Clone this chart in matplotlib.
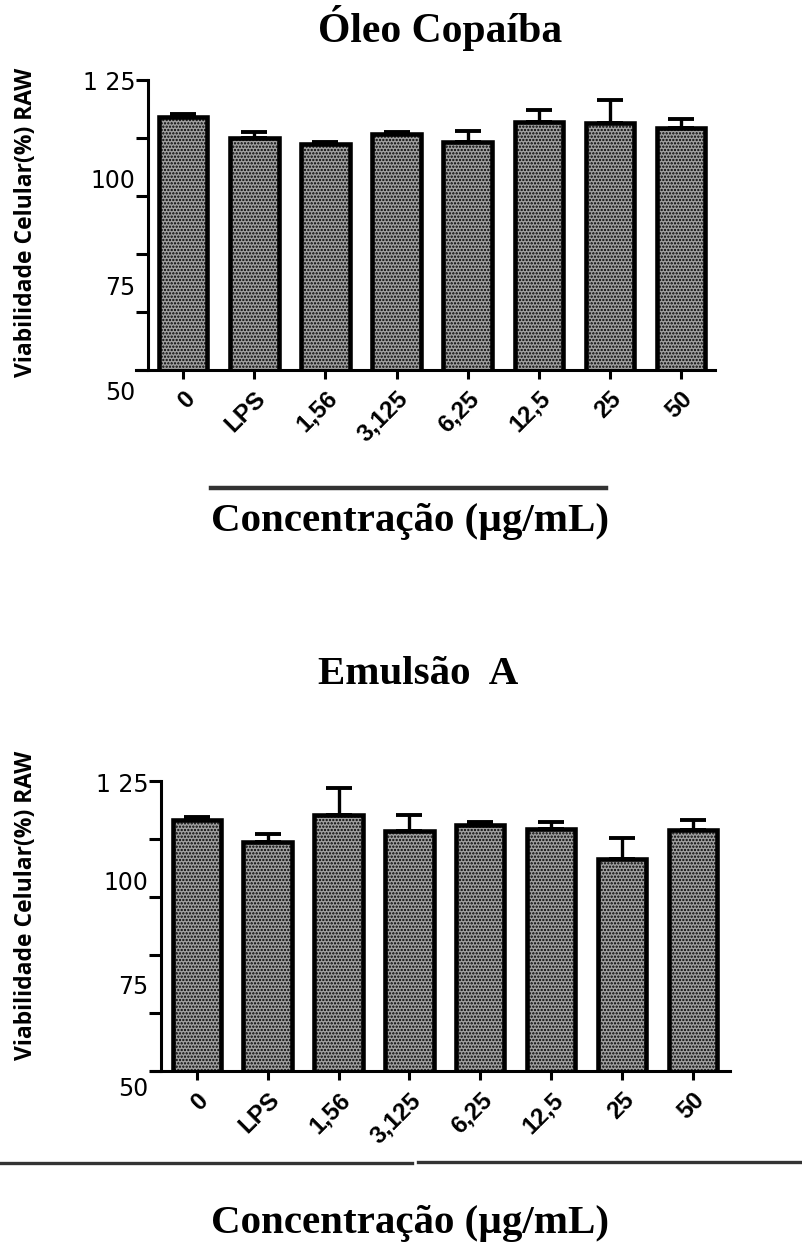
import matplotlib.pyplot as plt
from matplotlib.lines import Line2D

categories = ['0', 'LPS', '1,56', '3,125', '6,25', '12,5', '25', '50']
oleo_mean = [115.3, 110.0, 108.4, 110.9, 108.9, 114.0, 113.9, 112.6]
oleo_err = [1.0, 1.5, 0.6, 0.7, 2.8, 3.1, 5.8, 2.2]
emul_mean = [114.8, 109.3, 116.2, 112.0, 113.7, 112.6, 104.9, 112.2]
emul_err = [0.9, 1.9, 7.1, 4.2, 0.7, 1.9, 5.4, 2.8]
y_ticks = [50, 65, 80, 95, 110, 125]
y_labels = ['1 25', '100', '75', '50']

W, H = 802, 1255
plt.rcParams['hatch.linewidth'] = 1.1
fig = plt.figure(figsize=(W / 100, H / 100), dpi=100)


def px_axes(x0, x1, y_top, y_bot):
    # caixa em pixels -> fracao da figura
    return [x0 / W, 1 - y_bot / H, (x1 - x0) / W, (y_bot - y_top) / H]


def draw_panel(ax, means, errs, xlim, spine_x, lab_y, lab_x):
    x = list(range(len(categories)))
    ax.bar(x, means, width=0.68, color='#a0a0a0', edgecolor='black',
           linewidth=3.3, hatch='.....', zorder=2)
    ax.errorbar(x, means, yerr=[[0] * len(errs), errs], fmt='none',
                ecolor='black', elinewidth=2.4, capsize=9.5, capthick=2.8,
                zorder=3)
    ax.set_xlim(*xlim)
    ax.set_ylim(50, 125)
    ax.spines['top'].set_visible(False)
    ax.spines['right'].set_visible(False)
    ax.spines['left'].set_position(('data', spine_x))
    ax.spines['left'].set_bounds(50, 125)
    for s in ('left', 'bottom'):
        ax.spines[s].set_linewidth(2.2)
    ax.set_yticks(y_ticks)
    ax.set_yticklabels([])
    ax.tick_params(axis='y', length=9, width=2.2, direction='out')
    ax.tick_params(axis='x', length=6.5, width=2.2, direction='out', pad=6)
    ax.set_xticks(x)
    ax.set_xticklabels(categories, rotation=45, ha='right', va='top',
                       rotation_mode='anchor', fontsize=17.5,
                       fontweight='bold', family='Liberation Sans')
    for lab, yy in zip(y_labels, lab_y):
        ax.text(lab_x, yy, lab, transform=ax.transAxes, ha='right',
                va='center', fontsize=17, family='DejaVu Sans')


ax1 = fig.add_axes(px_axes(135.7, 715, 80, 369.5))
draw_panel(ax1, oleo_mean, oleo_err, (-0.67, 7.48), -0.49,
           [0.99, 0.651, 0.2815, -0.081], 0.0)

ax2 = fig.add_axes(px_axes(151, 730, 781, 1071))
draw_panel(ax2, emul_mean, emul_err, (-0.644, 7.52), -0.507,
           [0.986, 0.649, 0.291, -0.062], -0.004)

serif = dict(family='Liberation Serif', fontweight='bold', ha='center',
             va='center')
fig.text(440 / W, 1 - 28 / H, 'Óleo Copaíba', fontsize=30, **serif)
fig.text(410 / W, 1 - 521 / H, 'Concentração (µg/mL)', fontsize=29.5, **serif)
fig.text(418 / W, 1 - 675 / H, 'Emulsão  A', fontsize=29.5, **serif)
fig.text(410 / W, 1 - 1223 / H, 'Concentração (µg/mL)', fontsize=29.5, **serif)

ylab = dict(family='Open Sans', fontweight='bold', fontsize=16.5,
            rotation=90, ha='center', va='center')
fig.text(26 / W, 1 - 222 / H, 'Viabilidade Celular(%) RAW', **ylab)
fig.text(26 / W, 1 - 905 / H, 'Viabilidade Celular(%) RAW', **ylab)

# linhas horizontais
fig.add_artist(Line2D([211 / W, 606 / W], [1 - 487.5 / H] * 2,
                      color='#333333', linewidth=3.2))
fig.add_artist(Line2D([0, 412 / W], [1 - 1163 / H] * 2,
                      color='#333333', linewidth=2.4))
fig.add_artist(Line2D([418 / W, 1], [1 - 1162 / H] * 2,
                      color='#333333', linewidth=2.4))

fig.savefig('out.png', dpi=100)
